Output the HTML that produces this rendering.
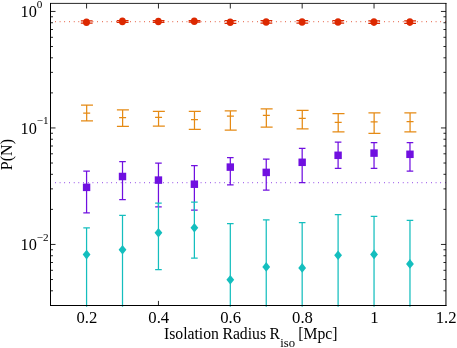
<!DOCTYPE html>
<html><head><meta charset="utf-8"><title>plot</title>
<style>html,body{margin:0;padding:0;background:#fff;}body{width:457px;height:348px;position:relative;overflow:hidden;font-family:"Liberation Serif",serif;}</style>
</head><body>
<svg width="457" height="348" viewBox="0 0 457 348" style="position:absolute;left:0;top:0;will-change:transform">
<defs><clipPath id="c"><rect x="49.9" y="2.9" width="396.65" height="303.9"/></clipPath></defs>
<rect width="457" height="348" fill="#fff"/>
<path d="M86.58 3.5v5.0M158.45 3.5v5.0M158.45 305.5v-4.6M230.31 3.5v5.0M302.17 3.5v5.0M374.04 3.5v5.0M50.5 11.45h5.0M445.95 11.45h-5.0M50.5 127.95h5.0M445.95 127.95h-5.0M50.5 244.45h5.0M445.95 244.45h-5.0M50.5 92.88h2.5M445.95 92.88h-2.5M50.5 72.37h2.5M445.95 72.37h-2.5M50.5 57.81h2.5M445.95 57.81h-2.5M50.5 46.52h2.5M445.95 46.52h-2.5M50.5 37.30h2.5M445.95 37.30h-2.5M50.5 29.50h2.5M445.95 29.50h-2.5M50.5 22.74h2.5M445.95 22.74h-2.5M50.5 16.78h2.5M445.95 16.78h-2.5M50.5 209.38h2.5M445.95 209.38h-2.5M50.5 188.87h2.5M445.95 188.87h-2.5M50.5 174.31h2.5M445.95 174.31h-2.5M50.5 163.02h2.5M445.95 163.02h-2.5M50.5 153.80h2.5M445.95 153.80h-2.5M50.5 146.00h2.5M445.95 146.00h-2.5M50.5 139.24h2.5M445.95 139.24h-2.5M50.5 133.28h2.5M445.95 133.28h-2.5M50.5 290.81h2.5M445.95 290.81h-2.5M50.5 279.52h2.5M445.95 279.52h-2.5M50.5 270.30h2.5M445.95 270.30h-2.5M50.5 262.50h2.5M445.95 262.50h-2.5M50.5 255.74h2.5M445.95 255.74h-2.5M50.5 249.78h2.5M445.95 249.78h-2.5" stroke="#000" stroke-width="0.85" fill="none"/>
<g clip-path="url(#c)">
<line x1="50.35" y1="21.55" x2="446.5" y2="21.55" stroke="#dc2800" stroke-width="1.25" stroke-dasharray="0.6 4.1"/>
<line x1="50.35" y1="182.6" x2="446.5" y2="182.6" stroke="#7010e0" stroke-width="1.25" stroke-dasharray="0.6 4.1"/>
<path d="M86.48 20.85V23.20M80.83 20.85H92.63M80.83 23.20H92.63" stroke="#dc2800" stroke-width="1.25" fill="none"/>
<ellipse cx="86.48" cy="22.20" rx="3.45" ry="3.8" fill="#dc2800"/>
<path d="M122.41 20.60V22.30M116.76 20.60H128.56M116.76 22.30H128.56" stroke="#dc2800" stroke-width="1.25" fill="none"/>
<ellipse cx="122.41" cy="21.40" rx="3.45" ry="3.8" fill="#dc2800"/>
<path d="M158.35 20.60V22.30M152.70 20.60H164.50M152.70 22.30H164.50" stroke="#dc2800" stroke-width="1.25" fill="none"/>
<ellipse cx="158.35" cy="21.45" rx="3.45" ry="3.8" fill="#dc2800"/>
<path d="M194.28 20.50V22.20M188.63 20.50H200.43M188.63 22.20H200.43" stroke="#dc2800" stroke-width="1.25" fill="none"/>
<ellipse cx="194.28" cy="21.30" rx="3.45" ry="3.8" fill="#dc2800"/>
<path d="M230.21 20.70V23.25M224.56 20.70H236.36M224.56 23.25H236.36" stroke="#dc2800" stroke-width="1.25" fill="none"/>
<ellipse cx="230.21" cy="22.25" rx="3.45" ry="3.8" fill="#dc2800"/>
<path d="M266.14 20.70V23.20M260.49 20.70H272.29M260.49 23.20H272.29" stroke="#dc2800" stroke-width="1.25" fill="none"/>
<ellipse cx="266.14" cy="22.00" rx="3.45" ry="3.8" fill="#dc2800"/>
<path d="M302.07 20.70V23.20M296.42 20.70H308.22M296.42 23.20H308.22" stroke="#dc2800" stroke-width="1.25" fill="none"/>
<ellipse cx="302.07" cy="22.00" rx="3.45" ry="3.8" fill="#dc2800"/>
<path d="M338.00 20.70V23.20M332.35 20.70H344.15M332.35 23.20H344.15" stroke="#dc2800" stroke-width="1.25" fill="none"/>
<ellipse cx="338.00" cy="22.00" rx="3.45" ry="3.8" fill="#dc2800"/>
<path d="M373.94 20.80V23.30M368.29 20.80H380.09M368.29 23.30H380.09" stroke="#dc2800" stroke-width="1.25" fill="none"/>
<ellipse cx="373.94" cy="22.10" rx="3.45" ry="3.8" fill="#dc2800"/>
<path d="M409.87 20.80V23.30M404.22 20.80H416.02M404.22 23.30H416.02" stroke="#dc2800" stroke-width="1.25" fill="none"/>
<ellipse cx="409.87" cy="22.10" rx="3.45" ry="3.8" fill="#dc2800"/>
<path d="M86.68 105.20V120.90M80.98 105.20H92.98M80.98 120.90H92.98" stroke="#e58a14" stroke-width="1.25" fill="none"/>
<path d="M83.18 113.00H90.18" stroke="#e58a14" stroke-width="1.25"/>
<path d="M122.61 109.90V126.30M116.91 109.90H128.91M116.91 126.30H128.91" stroke="#e58a14" stroke-width="1.25" fill="none"/>
<path d="M119.11 117.50H126.11" stroke="#e58a14" stroke-width="1.25"/>
<path d="M158.55 111.40V126.10M152.85 111.40H164.85M152.85 126.10H164.85" stroke="#e58a14" stroke-width="1.25" fill="none"/>
<path d="M155.05 117.30H162.05" stroke="#e58a14" stroke-width="1.25"/>
<path d="M194.48 111.40V129.40M188.78 111.40H200.78M188.78 129.40H200.78" stroke="#e58a14" stroke-width="1.25" fill="none"/>
<path d="M190.98 119.50H197.98" stroke="#e58a14" stroke-width="1.25"/>
<path d="M230.41 110.80V130.00M224.71 110.80H236.71M224.71 130.00H236.71" stroke="#e58a14" stroke-width="1.25" fill="none"/>
<path d="M226.91 116.20H233.91" stroke="#e58a14" stroke-width="1.25"/>
<path d="M266.34 108.80V127.20M260.64 108.80H272.64M260.64 127.20H272.64" stroke="#e58a14" stroke-width="1.25" fill="none"/>
<path d="M262.84 115.30H269.84" stroke="#e58a14" stroke-width="1.25"/>
<path d="M302.27 110.30V128.90M296.57 110.30H308.57M296.57 128.90H308.57" stroke="#e58a14" stroke-width="1.25" fill="none"/>
<path d="M298.77 118.40H305.77" stroke="#e58a14" stroke-width="1.25"/>
<path d="M338.20 113.60V131.80M332.50 113.60H344.50M332.50 131.80H344.50" stroke="#e58a14" stroke-width="1.25" fill="none"/>
<path d="M334.70 122.40H341.70" stroke="#e58a14" stroke-width="1.25"/>
<path d="M374.14 112.90V133.30M368.44 112.90H380.44M368.44 133.30H380.44" stroke="#e58a14" stroke-width="1.25" fill="none"/>
<path d="M370.64 121.90H377.64" stroke="#e58a14" stroke-width="1.25"/>
<path d="M410.07 112.90V131.80M404.37 112.90H416.37M404.37 131.80H416.37" stroke="#e58a14" stroke-width="1.25" fill="none"/>
<path d="M406.57 121.70H413.57" stroke="#e58a14" stroke-width="1.25"/>
<path d="M86.58 171.20V212.90M83.28 171.20H89.88M83.28 212.90H89.88" stroke="#7010e0" stroke-width="1.25" fill="none"/>
<rect x="82.88" y="183.60" width="7.4" height="7.5" fill="#7010e0"/>
<path d="M122.51 161.50V199.70M119.21 161.50H125.81M119.21 199.70H125.81" stroke="#7010e0" stroke-width="1.25" fill="none"/>
<rect x="118.81" y="172.75" width="7.4" height="7.5" fill="#7010e0"/>
<path d="M158.45 163.20V206.80M155.15 163.20H161.75M155.15 206.80H161.75" stroke="#7010e0" stroke-width="1.25" fill="none"/>
<rect x="154.75" y="176.35" width="7.4" height="7.5" fill="#7010e0"/>
<path d="M194.38 165.60V210.00M191.08 165.60H197.68M191.08 210.00H197.68" stroke="#7010e0" stroke-width="1.25" fill="none"/>
<rect x="190.68" y="180.45" width="7.4" height="7.5" fill="#7010e0"/>
<path d="M230.31 157.70V184.90M227.01 157.70H233.61M227.01 184.90H233.61" stroke="#7010e0" stroke-width="1.25" fill="none"/>
<rect x="226.61" y="163.35" width="7.4" height="7.5" fill="#7010e0"/>
<path d="M266.24 159.10V190.20M262.94 159.10H269.54M262.94 190.20H269.54" stroke="#7010e0" stroke-width="1.25" fill="none"/>
<rect x="262.54" y="168.65" width="7.4" height="7.5" fill="#7010e0"/>
<path d="M302.17 148.30V182.50M298.87 148.30H305.47M298.87 182.50H305.47" stroke="#7010e0" stroke-width="1.25" fill="none"/>
<rect x="298.47" y="158.55" width="7.4" height="7.5" fill="#7010e0"/>
<path d="M338.10 142.00V168.30M334.80 142.00H341.40M334.80 168.30H341.40" stroke="#7010e0" stroke-width="1.25" fill="none"/>
<rect x="334.40" y="151.55" width="7.4" height="7.5" fill="#7010e0"/>
<path d="M374.04 142.70V168.30M370.74 142.70H377.34M370.74 168.30H377.34" stroke="#7010e0" stroke-width="1.25" fill="none"/>
<rect x="370.34" y="149.35" width="7.4" height="7.5" fill="#7010e0"/>
<path d="M409.97 142.70V171.20M406.67 142.70H413.27M406.67 171.20H413.27" stroke="#7010e0" stroke-width="1.25" fill="none"/>
<rect x="406.27" y="150.55" width="7.4" height="7.5" fill="#7010e0"/>
<path d="M86.58 227.80V400.00M83.28 227.80H89.88M83.28 400.00H89.88" stroke="#14bebe" stroke-width="1.25" fill="none"/>
<path d="M86.58 249.80L90.48 254.60L86.58 259.40L82.68 254.60Z" fill="#14bebe"/>
<path d="M122.51 215.30V400.00M119.21 215.30H125.81M119.21 400.00H125.81" stroke="#14bebe" stroke-width="1.25" fill="none"/>
<path d="M122.51 245.00L126.41 249.80L122.51 254.60L118.61 249.80Z" fill="#14bebe"/>
<path d="M158.45 203.00V269.50M155.15 203.00H161.75M155.15 269.50H161.75" stroke="#14bebe" stroke-width="1.25" fill="none"/>
<path d="M158.45 227.90L162.35 232.70L158.45 237.50L154.55 232.70Z" fill="#14bebe"/>
<path d="M194.38 202.10V258.00M191.08 202.10H197.68M191.08 258.00H197.68" stroke="#14bebe" stroke-width="1.25" fill="none"/>
<path d="M194.38 223.00L198.28 227.80L194.38 232.60L190.48 227.80Z" fill="#14bebe"/>
<path d="M230.31 223.60V400.00M227.01 223.60H233.61M227.01 400.00H233.61" stroke="#14bebe" stroke-width="1.25" fill="none"/>
<path d="M230.31 274.90L234.21 279.70L230.31 284.50L226.41 279.70Z" fill="#14bebe"/>
<path d="M266.24 219.90V400.00M262.94 219.90H269.54M262.94 400.00H269.54" stroke="#14bebe" stroke-width="1.25" fill="none"/>
<path d="M266.24 262.10L270.14 266.90L266.24 271.70L262.34 266.90Z" fill="#14bebe"/>
<path d="M302.17 222.60V400.00M298.87 222.60H305.47M298.87 400.00H305.47" stroke="#14bebe" stroke-width="1.25" fill="none"/>
<path d="M302.17 263.10L306.07 267.90L302.17 272.70L298.27 267.90Z" fill="#14bebe"/>
<path d="M338.10 214.70V400.00M334.80 214.70H341.40M334.80 400.00H341.40" stroke="#14bebe" stroke-width="1.25" fill="none"/>
<path d="M338.10 250.50L342.00 255.30L338.10 260.10L334.20 255.30Z" fill="#14bebe"/>
<path d="M374.04 216.30V400.00M370.74 216.30H377.34M370.74 400.00H377.34" stroke="#14bebe" stroke-width="1.25" fill="none"/>
<path d="M374.04 249.60L377.94 254.40L374.04 259.20L370.14 254.40Z" fill="#14bebe"/>
<path d="M409.97 220.30V400.00M406.67 220.30H413.27M406.67 400.00H413.27" stroke="#14bebe" stroke-width="1.25" fill="none"/>
<path d="M409.97 259.10L413.87 263.90L409.97 268.70L406.07 263.90Z" fill="#14bebe"/>
</g>
<path d="M50.5 3.0V306.0M50.0 305.5H446.45M445.95 3.0V306.0" fill="none" stroke="#000" stroke-width="1"/>
<path d="M50.0 3.4H446.45" fill="none" stroke="#000" stroke-width="0.85"/>
<text x="86.88" y="323.1" font-size="16.7" text-anchor="middle" font-family="Liberation Serif, serif" fill="#000">0.2</text>
<text x="158.75" y="323.1" font-size="16.7" text-anchor="middle" font-family="Liberation Serif, serif" fill="#000">0.4</text>
<text x="230.61" y="323.1" font-size="16.7" text-anchor="middle" font-family="Liberation Serif, serif" fill="#000">0.6</text>
<text x="302.47" y="323.1" font-size="16.7" text-anchor="middle" font-family="Liberation Serif, serif" fill="#000">0.8</text>
<text x="374.34" y="323.1" font-size="16.7" text-anchor="middle" font-family="Liberation Serif, serif" fill="#000">1</text>
<text x="446.20" y="323.1" font-size="16.7" text-anchor="middle" font-family="Liberation Serif, serif" fill="#000">1.2</text>
<text x="36.8" y="17.35" font-size="16.3" text-anchor="end" font-family="Liberation Serif, serif" fill="#000">10</text>
<text x="36.8" y="7.55" font-size="11.2" text-anchor="start" font-family="Liberation Serif, serif" fill="#000">0</text>
<text x="36.8" y="133.85" font-size="16.3" text-anchor="end" font-family="Liberation Serif, serif" fill="#000">10</text>
<text x="36.8" y="124.05" font-size="11.2" text-anchor="start" font-family="Liberation Serif, serif" fill="#000">−1</text>
<text x="36.8" y="250.35" font-size="16.3" text-anchor="end" font-family="Liberation Serif, serif" fill="#000">10</text>
<text x="36.8" y="240.55" font-size="11.2" text-anchor="start" font-family="Liberation Serif, serif" fill="#000">−2</text>
<text y="338.7" font-size="15.7" font-family="Liberation Serif, serif" fill="#000"><tspan x="164.0">Isolation</tspan><tspan x="222.45">Radius</tspan><tspan x="269.6">R</tspan></text>
<text x="280.2" y="346.8" font-size="12.7" font-family="Liberation Serif, serif" fill="#000">iso</text>
<text x="298.25" y="338.7" font-size="15.7" font-family="Liberation Serif, serif" fill="#000">[Mpc]</text>
<text transform="translate(12.2 154.6) rotate(-90)" font-size="16" text-anchor="middle" font-family="Liberation Serif, serif" fill="#000">P(N)</text>
</svg>
</body></html>
